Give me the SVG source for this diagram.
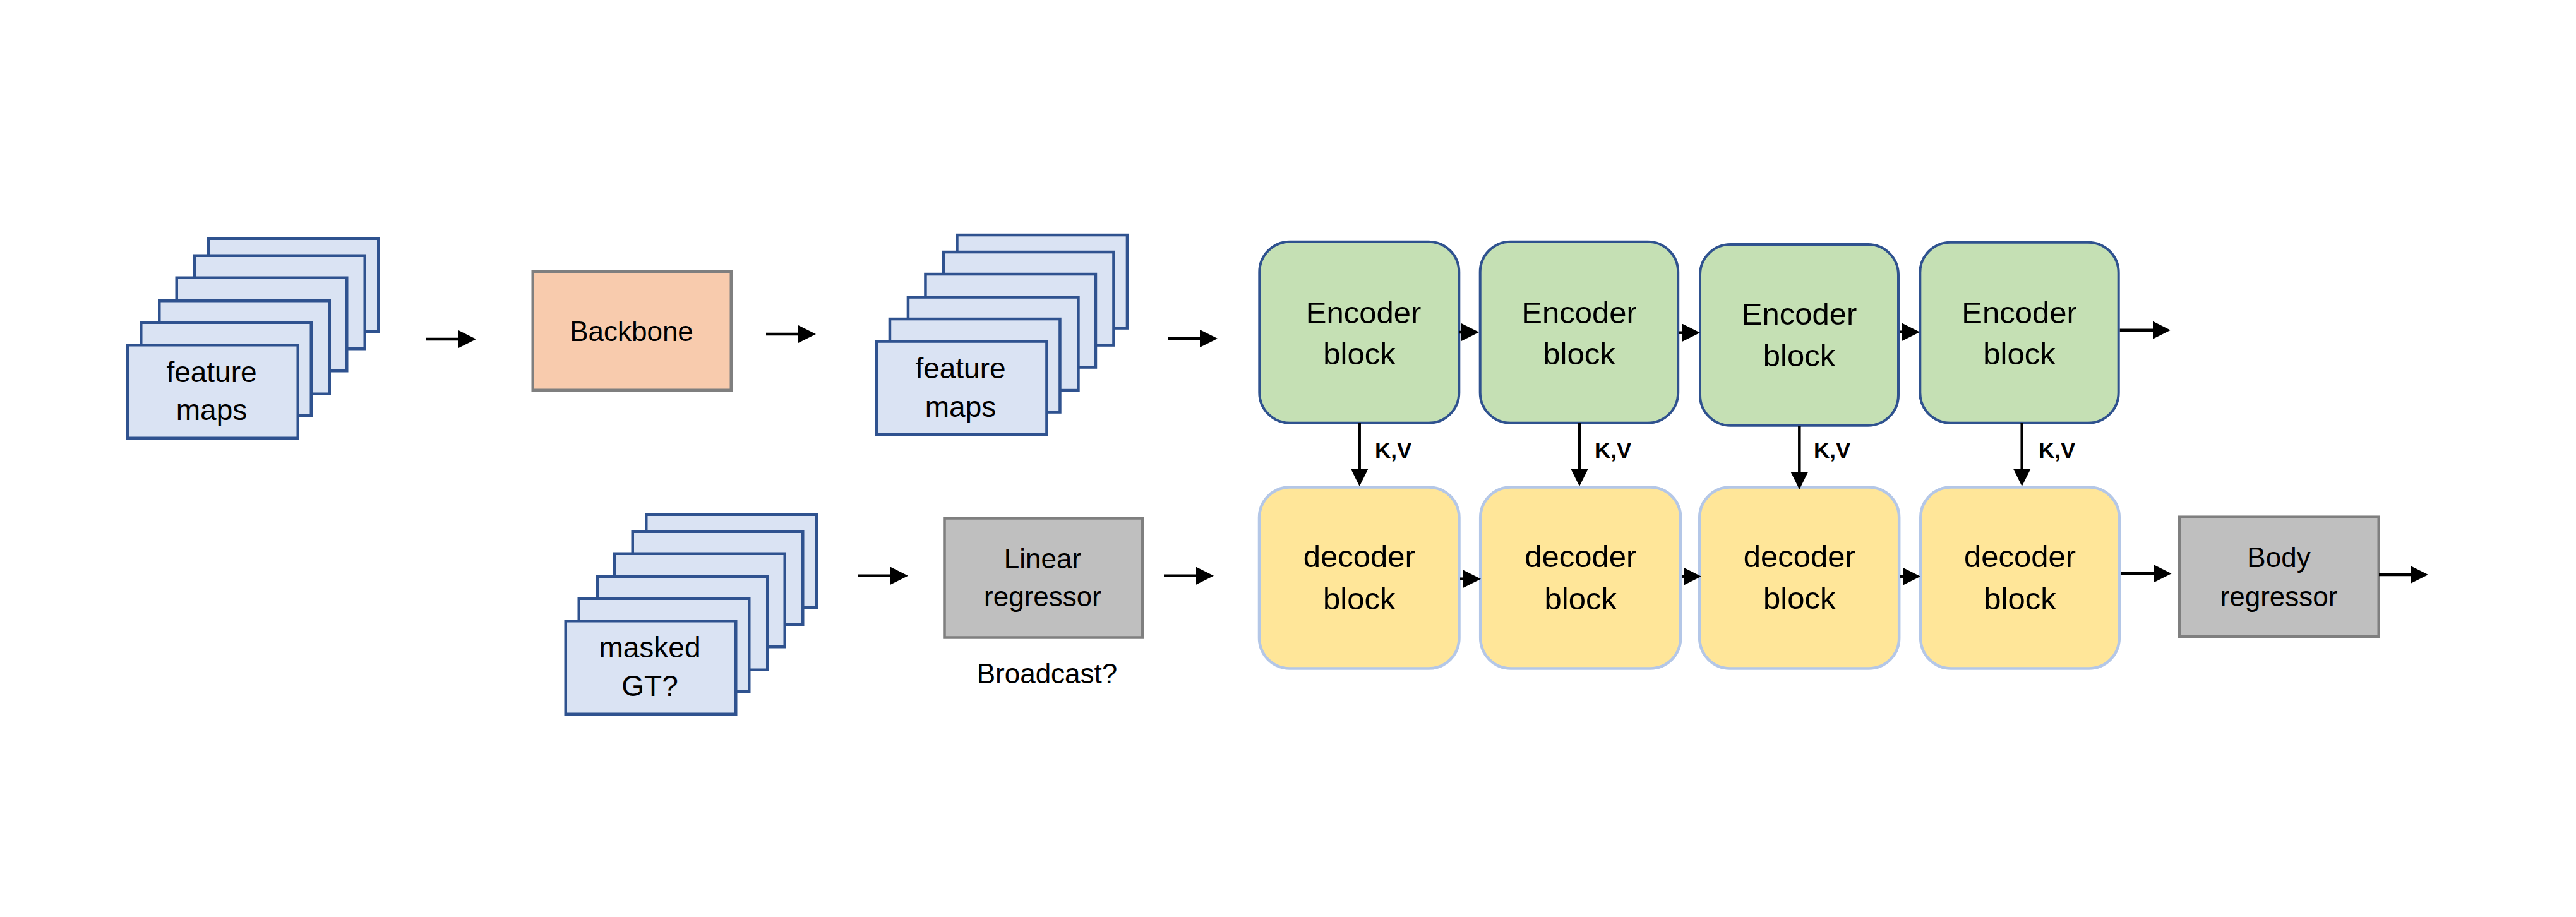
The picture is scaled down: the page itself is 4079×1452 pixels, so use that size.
<svg xmlns="http://www.w3.org/2000/svg" xmlns:xlink="http://www.w3.org/1999/xlink" width="4079" height="1452" viewBox="0 0 4079 1452">
  <style>
    text { font-family: "Liberation Sans", Arial, sans-serif; fill: #000; text-anchor: middle; }
    .lbl { font-size: 46px; }
    .sm { font-size: 44px; }
    .blk { font-size: 49px; }
    .kv { font-size: 35px; font-weight: bold; text-anchor: start; }
    .sheet { fill: #DAE3F3; stroke: #2F528F; stroke-width: 4.5; }
    .grey { fill: #BFBFBF; stroke: #7F7F7F; stroke-width: 4.5; }
    .bone { fill: #F8CBAD; stroke: #7F7F7F; stroke-width: 4.5; }
    .enc { fill: #C5E0B4; stroke: #2F528F; stroke-width: 4; }
    .dec { fill: #FFE699; stroke: #B4C7E7; stroke-width: 4.5; }
    .arr { stroke: #000; stroke-width: 4.5; fill: none; marker-end: url(#head); }
  </style>
  <defs>
    <marker id="head" markerUnits="userSpaceOnUse" markerWidth="28" markerHeight="28" viewBox="0 0 28 28" refX="8" refY="14" orient="auto">
      <path d="M0,0 L28,14 L0,28 Z" fill="#000"/>
    </marker>
    <!-- six stacked sheets, origin at the front sheet's top-left corner -->
    <g id="stack">
      <rect class="sheet" x="129.75" y="-166.25" width="269.5" height="147.5"/>
      <rect class="sheet" x="108.25" y="-139.25" width="269.5" height="147.5"/>
      <rect class="sheet" x="79.75" y="-104.25" width="269.5" height="147.5"/>
      <rect class="sheet" x="52.25" y="-67.75" width="269.5" height="147.5"/>
      <rect class="sheet" x="23.25" y="-33.25" width="269.5" height="147.5"/>
      <rect class="sheet" x="2.25" y="2.25" width="269.5" height="147.5"/>
    </g>
  </defs>

  <rect width="4079" height="1452" fill="#fff"/>

  <g id="feature-maps-in">
    <use xlink:href="#stack" href="#stack" x="200" y="544"/>
    <text class="lbl" x="335" y="605">feature</text>
    <text class="lbl" x="335" y="665">maps</text>
  </g>

  <g id="backbone">
    <rect class="bone" x="843.75" y="430.25" width="314" height="187.5"/>
    <text class="sm" x="1000" y="540">Backbone</text>
  </g>

  <g id="feature-maps-out">
    <use xlink:href="#stack" href="#stack" x="1385.7" y="538.3"/>
    <text class="lbl" x="1521" y="598.5">feature</text>
    <text class="lbl" x="1521" y="660">maps</text>
  </g>

  <g id="masked-gt">
    <use xlink:href="#stack" href="#stack" x="893.5" y="981"/>
    <text class="lbl" x="1029" y="1041">masked</text>
    <text class="lbl" x="1029" y="1102">GT?</text>
  </g>

  <g id="linear-regressor">
    <rect class="grey" x="1495.5" y="820.5" width="313.5" height="189"/>
    <text class="sm" x="1651" y="900">Linear</text>
    <text class="sm" x="1651" y="960">regressor</text>
    <text class="sm" x="1658" y="1082">Broadcast?</text>
  </g>

  <g id="encoder-1">
    <rect class="enc" x="1994.3" y="382.7" width="316" height="287" rx="48"/>
    <text class="blk" x="2159" y="511.7">Encoder</text>
    <text class="blk" x="2152.5" y="576.7">block</text>
  </g>
  <g id="encoder-2">
    <rect class="enc" x="2343.7" y="382.7" width="313.5" height="287" rx="48"/>
    <text class="blk" x="2500.5" y="511.7">Encoder</text>
    <text class="blk" x="2500.5" y="576.7">block</text>
  </g>
  <g id="encoder-3">
    <rect class="enc" x="2692" y="387" width="314" height="286.7" rx="48"/>
    <text class="blk" x="2849" y="514">Encoder</text>
    <text class="blk" x="2849" y="580">block</text>
  </g>
  <g id="encoder-4">
    <rect class="enc" x="3040.3" y="383.7" width="314.4" height="286" rx="48"/>
    <text class="blk" x="3197.5" y="511.7">Encoder</text>
    <text class="blk" x="3197.5" y="576.7">block</text>
  </g>

  <g id="decoder-1">
    <rect class="dec" x="1994" y="771.5" width="316.5" height="287" rx="48"/>
    <text class="blk" x="2152.2" y="898.3">decoder</text>
    <text class="blk" x="2152.2" y="965">block</text>
  </g>
  <g id="decoder-2">
    <rect class="dec" x="2344.2" y="771.5" width="317" height="287" rx="48"/>
    <text class="blk" x="2502.7" y="898.3">decoder</text>
    <text class="blk" x="2502.7" y="965">block</text>
  </g>
  <g id="decoder-3">
    <rect class="dec" x="2691.2" y="771.5" width="316" height="287" rx="48"/>
    <text class="blk" x="2849.2" y="898.3">decoder</text>
    <text class="blk" x="2849.2" y="964">block</text>
  </g>
  <g id="decoder-4">
    <rect class="dec" x="3041.2" y="771.5" width="314.6" height="287" rx="48"/>
    <text class="blk" x="3198.5" y="898.3">decoder</text>
    <text class="blk" x="3198.5" y="965">block</text>
  </g>

  <g id="body-regressor">
    <rect class="grey" x="3450.75" y="818.7" width="316" height="189.3"/>
    <text class="sm" x="3608.5" y="898.3">Body</text>
    <text class="sm" x="3608.5" y="960">regressor</text>
  </g>

  <g id="connectors">
    <line class="arr" x1="674" y1="537" x2="734" y2="537"/>
    <line class="arr" x1="1213" y1="529" x2="1272" y2="529"/>
    <line class="arr" x1="1850" y1="536" x2="1908" y2="536"/>
    <line class="arr" x1="2311" y1="526" x2="2322" y2="526"/>
    <line class="arr" x1="2659" y1="526.7" x2="2672" y2="526.7"/>
    <line class="arr" x1="3008" y1="525.7" x2="3020" y2="525.7"/>
    <line class="arr" x1="3356.7" y1="522.7" x2="3417" y2="522.7"/>
    <line class="arr" x1="2152.7" y1="670" x2="2152.7" y2="750"/>
    <line class="arr" x1="2501" y1="670" x2="2501" y2="750"/>
    <line class="arr" x1="2849.3" y1="675" x2="2849.3" y2="755"/>
    <line class="arr" x1="3201.7" y1="670" x2="3201.7" y2="750"/>
    <line class="arr" x1="1358.6" y1="911.7" x2="1418" y2="911.7"/>
    <line class="arr" x1="1843" y1="911.7" x2="1902" y2="911.7"/>
    <line class="arr" x1="2312" y1="916.7" x2="2325" y2="916.7"/>
    <line class="arr" x1="2663" y1="912.7" x2="2674" y2="912.7"/>
    <line class="arr" x1="3009" y1="912.7" x2="3021" y2="912.7"/>
    <line class="arr" x1="3358" y1="908.3" x2="3418.5" y2="908.3"/>
    <line class="arr" x1="3767" y1="910" x2="3825" y2="910"/>
    <text class="kv" x="2177" y="725">K,V</text>
    <text class="kv" x="2525" y="725">K,V</text>
    <text class="kv" x="2872" y="725">K,V</text>
    <text class="kv" x="3228" y="725">K,V</text>
  </g>
</svg>
